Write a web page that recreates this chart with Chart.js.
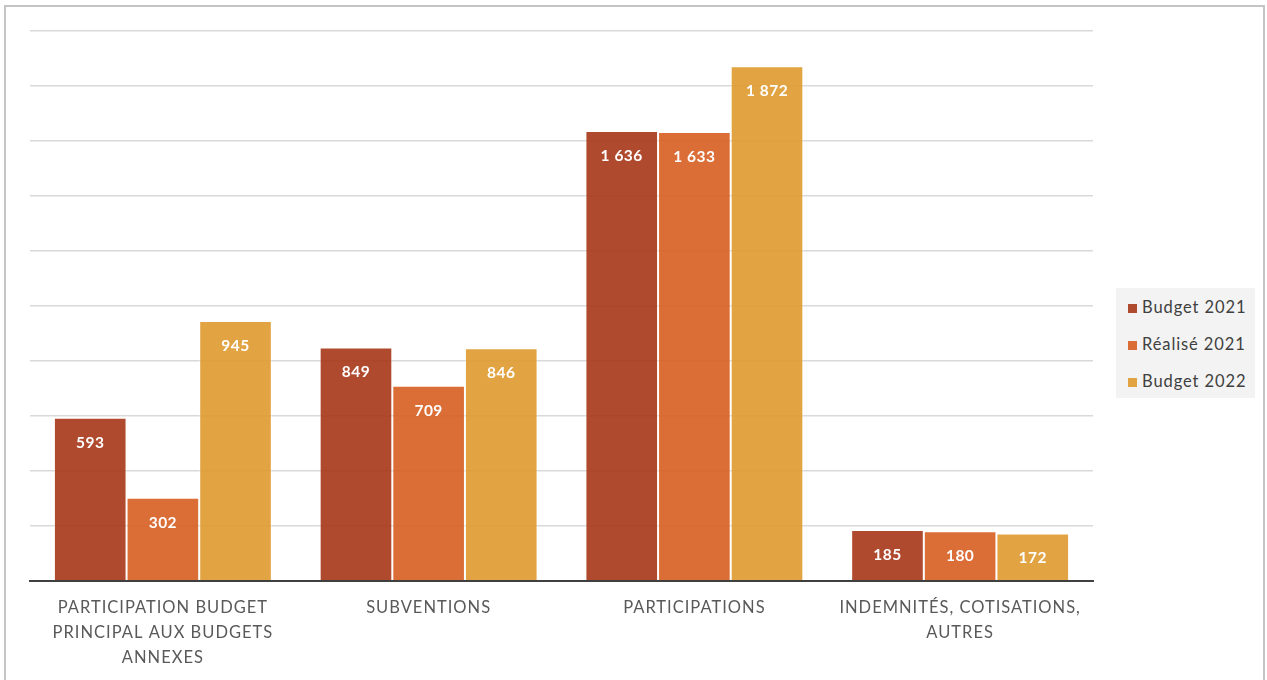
<!DOCTYPE html>
<html>
<head>
<meta charset="utf-8">
<script src="https://cdn.jsdelivr.net/npm/chart.js@4"></script>
<style>
  body { margin: 0; background: #fff; font-family: Lato, sans-serif; }
  #frame { position: absolute; left: 4px; top: 5px; width: 1257px; height: 680px;
           border: 2px solid #c4c4c4; border-bottom: none; }
  #wrap { position: absolute; left: 0; top: 0; width: 1267px; height: 680px; }
  #legend { position: absolute; left: 1116px; top: 288px; width: 139px; height: 110px;
            background: #f3f3f3; }
  .item { position: absolute; left: 12px; font-size: 16.5px; letter-spacing: 0.9px;
          color: #404040; line-height: 20px; }
  .item span { display: inline-block; width: 9px; height: 9px; margin-right: 5px; }
</style>
</head>
<body>
<div id="frame"></div>
<div id="wrap"><canvas id="chart"></canvas></div>
<div id="legend"></div>
<script>
const categories = [
  ['PARTICIPATION BUDGET', 'PRINCIPAL AUX BUDGETS', 'ANNEXES'],
  ['SUBVENTIONS'],
  ['PARTICIPATIONS'],
  ['INDEMNITÉS, COTISATIONS,', 'AUTRES']
];
const seriesNames = ['Budget 2021', 'Réalisé 2021', 'Budget 2022'];
const budget2021 = [593, 849, 1636, 185];
const realise2021 = [302, 709, 1633, 180];
const budget2022 = [945, 846, 1872, 172];
const colors = ['rgba(167,54,23,0.9)', 'rgba(215,93,32,0.9)', 'rgba(223,154,46,0.9)'];
const legendColors = ['#b04a2e', '#db6d36', '#e2a443'];

// legend
const legend = document.getElementById('legend');
seriesNames.forEach((name, i) => {
  const d = document.createElement('div');
  d.className = 'item';
  d.style.top = (9 + i * 37) + 'px';
  d.innerHTML = '<span style="background:' + legendColors[i] + '"></span>' + name;
  legend.appendChild(d);
});

function fmt(v) {
  return String(v).replace(/\B(?=(\d{3})+(?!\d))/g, ' ');
}

// wider spacing for the axis text
const spacing = {
  id: 'spacing',
  beforeDraw(chart) { chart.ctx.letterSpacing = '1px'; }
};

const valueLabels = {
  id: 'valueLabels',
  afterDatasetsDraw(chart) {
    const ctx = chart.ctx;
    ctx.save();
    ctx.letterSpacing = '0.5px';
    ctx.fillStyle = '#ffffff';
    ctx.font = 'bold 15.5px Lato';
    ctx.textAlign = 'center';
    ctx.textBaseline = 'middle';
    chart.data.datasets.forEach((ds, i) => {
      chart.getDatasetMeta(i).data.forEach((bar, j) => {
        ctx.fillText(fmt(ds.data[j]), bar.x, bar.y + 25);
      });
    });
    ctx.restore();
  }
};

new Chart(document.getElementById('chart'), {
  type: 'bar',
  data: {
    labels: categories,
    datasets: [
      { label: seriesNames[0], data: budget2021, backgroundColor: colors[0] },
      { label: seriesNames[1], data: realise2021, backgroundColor: colors[1] },
      { label: seriesNames[2], data: budget2022, backgroundColor: colors[2] }
    ].map(d => Object.assign(d, {
      borderColor: 'rgba(255,255,255,0.45)',
      borderWidth: 1,
      categoryPercentage: 0.82,
      barPercentage: 1.0
    }))
  },
  options: {
    responsive: true,
    maintainAspectRatio: false,
    animation: false,
    layout: { padding: { left: 30, right: 174, top: 31, bottom: 3 } },
    plugins: {
      legend: { display: false },
      tooltip: { enabled: false }
    },
    scales: {
      x: {
        grid: { display: false },
        border: { color: '#404040', width: 2 },
        ticks: {
          color: '#595959',
          font: { family: 'Lato', size: 16.5, lineHeight: 1.5 },
          maxRotation: 0,
          autoSkip: false,
          padding: 7
        }
      },
      y: {
        min: 0,
        max: 2000,
        afterFit: s => { s.width = 0; },
        ticks: { display: false, stepSize: 200 },
        grid: { color: '#d9d9d9', lineWidth: 1.5, drawTicks: false },
        border: { display: false }
      }
    }
  },
  plugins: [spacing, valueLabels]
});
</script>
</body>
</html>
